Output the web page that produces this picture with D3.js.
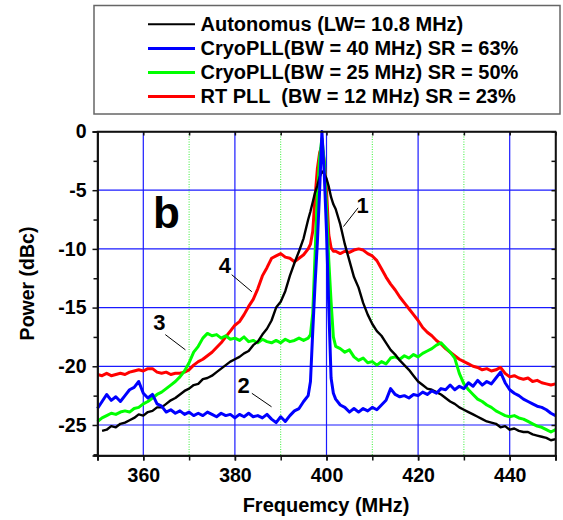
<!DOCTYPE html>
<html>
<head>
<meta charset="utf-8">
<script src="https://cdn.jsdelivr.net/npm/d3@7"></script>
<style>
body { margin: 0; background: #fff; }
text { font-family: "Liberation Sans", Arial, sans-serif; font-weight: bold; }
</style>
</head>
<body>
<div id="chart"></div>
<script>
// frequency samples (MHz), denser around the carrier
const freq = [
	350, 351, 352, 353, 354, 355, 356, 357, 358, 359,
	360, 361, 362, 363, 364, 365, 366, 367, 368, 369,
	370, 371, 372, 373, 374, 375, 376, 377, 378, 379,
	380, 381, 382, 383, 384, 385, 386, 387, 388, 389,
	390, 391, 392, 393, 394, 395, 396,
	396.5, 397, 397.5, 398, 398.5, 399, 399.5, 400, 400.5, 401, 401.5,
	402, 403, 404, 405, 406, 407, 408, 409,
	410, 411, 412, 413, 414, 415, 416, 417, 418, 419,
	420, 421, 422, 423, 424, 425, 426, 427, 428, 429,
	430, 431, 432, 433, 434, 435, 436, 437, 438, 439,
	440, 441, 442, 443, 444, 445, 446, 447, 448, 449, 450
];

const autonomous = [
	null, -25.5, -25.4, -25.1, -25.2, -24.9, -24.8, -24.6, -24.4, -24.1,
	-24.2, -23.9, -23.8, -23.5, -23.5, -23.2, -22.9, -22.7, -22.4, -22.1,
	-21.9, -21.6, -21.5, -21.1, -21.0, -20.8, -20.5, -20.2, -19.9, -19.6,
	-19.4, -19.2, -18.9, -18.7, -18.2, -17.9, -17.3, -16.8, -16.1, -15.0,
	-14.5, -13.6, -12.3, -11.2, -10.2, -9.1, -7.5,
	-6.8, -6.0, -5.2, -4.6, -3.9, -3.4, -3.6, -4.0, -4.7, -5.6, -6.2,
	-6.6, -7.9, -9.6, -11.0, -12.4, -13.3, -14.6, -15.6,
	-16.4, -17.0, -17.4, -18.0, -18.6, -19.0, -19.5, -19.9, -20.3, -20.8,
	-21.3, -21.6, -21.9, -22.0, -22.2, -22.4, -22.7, -23.0, -23.2, -23.5,
	-23.7, -23.9, -24.1, -24.3, -24.5, -24.7, -24.8, -24.9, -25.2, -25.1,
	-25.4, -25.3, -25.5, -25.6, -25.6, -25.8, -25.9, -26.0, -26.1, -26.3, -26.2
];

const cryo40 = [
	-23.6, -23.0, -22.4, -22.9, -22.6, -23.0, -22.5, -22.0, -21.8, -21.3,
	-22.3, -22.7, -22.4, -23.2, -23.4, -23.9, -23.7, -24.0, -23.8, -24.1,
	-23.9, -24.2, -24.0, -24.2, -23.9, -24.1, -24.3, -24.0, -24.2, -24.1,
	-24.4, -24.1, -24.3, -24.0, -24.3, -24.2, -24.4, -24.1, -24.5, -24.8,
	-24.3, -24.7, -24.2, -23.8, -23.6, -23.0, -22.5,
	-21.3, -17.0, -13.0, -9.5, -5.0, 0, -3.5, -8.5, -15.0, -21.0, -22.3,
	-22.8, -23.3, -23.5, -23.9, -23.6, -23.9, -23.6, -23.8,
	-23.5, -23.7, -23.3, -22.9, -21.9, -22.4, -22.6, -22.5, -22.7, -22.4,
	-22.5, -22.2, -22.4, -22.1, -22.3, -21.9, -22.0, -21.6, -22.0, -21.7,
	-21.9, -21.4, -21.7, -21.2, -21.6, -21.3, -21.5, -21.0, -20.5, -21.4,
	-22.0, -22.3, -22.5, -22.8, -23.0, -23.2, -23.4, -23.5, -23.7, -24.0, -24.2
];

const cryo25 = [
	-24.7, -24.4, -24.2, -24.0, -24.1, -23.9, -23.8, -23.9, -23.6, -23.5,
	-23.2, -23.0, -22.7, -22.4, -22.2, -21.9, -21.6, -21.3, -20.9, -20.4,
	-19.7, -18.8, -18.3, -17.6, -17.2, -17.4, -17.3, -17.6, -17.4, -17.7,
	-17.6, -17.8, -17.5, -17.9, -17.8, -18.0, -17.7, -17.9, -18.0, -17.8,
	-18.0, -17.7, -17.9, -17.8, -17.6, -17.8, -17.6,
	-17.3, -15.5, -10.5, -5.5, -2.2, -0.6, -2.5, -6.5, -11.0, -14.5, -17.5,
	-18.3, -18.5, -18.8, -18.6, -19.2, -19.5, -19.3, -19.7,
	-19.6, -19.9, -19.6, -19.8, -19.3, -19.2, -19.4, -19.1, -19.3, -19.0,
	-19.2, -18.9, -18.7, -18.5, -18.2, -18.0, -18.4, -18.8, -19.3, -20.6,
	-21.5, -22.0, -22.4, -22.8, -23.0, -23.3, -23.5, -23.8, -24.0, -24.2,
	-24.3, -24.2, -24.4, -24.5, -24.7, -24.9, -25.1, -25.2, -25.4, -25.6, -25.4
];

const rtpll = [
	-20.7, -20.8, -20.6, -20.8, -20.7, -20.6, -20.7, -20.5, -20.4, -20.3,
	-20.4, -20.2, -20.2, -20.5, -20.6, -20.5, -20.7, -20.6, -20.6, -20.5,
	-20.3, -19.9, -19.6, -19.4, -19.1, -18.8, -18.4, -18.0, -17.5, -17.0,
	-16.5, -16.2, -15.6, -14.9, -14.3, -13.4, -12.3, -11.6, -10.8, -10.6,
	-10.4, -10.7, -10.8, -11.1, -10.8, -10.5, -10.0,
	-9.6, -8.5, -5.6, -3.2, -1.8, -1.2, -2.5, -5.0, -8.8, -9.9, -10.2,
	-10.2, -10.4, -10.2, -10.3, -10.1, -10.0, -10.1, -10.4,
	-10.6, -11.0, -11.7, -12.4, -13.0, -13.5, -14.1, -14.6, -15.1, -15.6,
	-16.1, -16.7, -17.1, -17.4, -17.8, -18.1, -18.5, -18.8, -19.1, -19.4,
	-19.6, -19.8, -20.0, -20.1, -20.3, -20.2, -20.4, -20.3, -20.1, -20.6,
	-20.9, -20.8, -21.0, -21.1, -21.0, -21.3, -21.2, -21.4, -21.5, -21.6, -21.5
];

const legendLabels = [
	"Autonomus (LW= 10.8 MHz)",
	"CryoPLL(BW = 40 MHz) SR = 63%",
	"CryoPLL(BW = 25 MHz) SR = 50%",
	"RT PLL  (BW = 12 MHz) SR = 23%"
];
const seriesColors = ["#000000", "#0000ff", "#00ff00", "#ff0000"];

const xMajor = [360, 380, 400, 420, 440];
const xMinor = [370, 390, 410, 430];
const xTicks = [350, 360, 370, 380, 390, 400, 410, 420, 430, 440, 450];
const yMajor = [0, -5, -10, -15, -20, -25];
const yMinor = [-2.5, -7.5, -12.5, -17.5, -22.5, -27.5];

// curve labels: text position and leader line, in data units
const notes = [
	{ label: "1", tx: 407.9, ty: -6.9, x1: 406.9, y1: -6.5, x2: 403.7, y2: -8.1 },
	{ label: "4", tx: 377.8, ty: -12.05, x1: 379.3, y1: -12.2, x2: 383.7, y2: -13.65 },
	{ label: "3", tx: 363.5, ty: -16.9, x1: 364.8, y1: -17.3, x2: 369.2, y2: -18.6 },
	{ label: "2", tx: 381.9, ty: -22.3, x1: 383.7, y1: -22.3, x2: 388.0, y2: -23.45 }
];

drawspectrum()

function drawspectrum() {
	const width = 563;
	const height = 520;
	const svg = d3.select("#chart")
		.append("svg")
		.attr("width", width)
		.attr("height", height);

	const left = 97.5, right = 555.5, top = 131.5, bottom = 455.5;

	const x = d3.scaleLinear().domain([350, 450]).range([left, right]);
	const y = d3.scaleLinear().domain([0, -27.6]).range([top, bottom]);

	// grid
	const grid = svg.append("g").attr("id", "grid");
	grid.selectAll(".vmaj")
		.data(xMajor)
		.enter()
		.append("line")
		.attr("x1", d => x(d)).attr("x2", d => x(d))
		.attr("y1", top).attr("y2", bottom)
		.attr("stroke", "#1a1aff")
		.attr("stroke-width", 1.2);
	grid.selectAll(".vmin")
		.data(xMinor)
		.enter()
		.append("line")
		.attr("x1", d => x(d)).attr("x2", d => x(d))
		.attr("y1", top).attr("y2", bottom)
		.attr("stroke", "#00ee00")
		.attr("stroke-width", 0.8)
		.attr("stroke-dasharray", "1,1.5");
	grid.selectAll(".hmaj")
		.data(yMajor.slice(1))
		.enter()
		.append("line")
		.attr("x1", left).attr("x2", right)
		.attr("y1", d => y(d)).attr("y2", d => y(d))
		.attr("stroke", "#1a1aff")
		.attr("stroke-width", 1.2);

	// curves
	const seriesList = [autonomous, cryo40, cryo25, rtpll];
	const line = d3.line()
		.defined(d => d[1] != null)
		.x(d => x(d[0]))
		.y(d => y(d[1]));
	const drawOrder = [3, 2, 0, 1];
	svg.append("g")
		.attr("id", "curves")
		.selectAll("path")
		.data(drawOrder)
		.enter()
		.append("path")
		.attr("d", i => line(freq.map((f, k) => [f, seriesList[i][k]])))
		.attr("fill", "none")
		.attr("stroke", i => seriesColors[i])
		.attr("stroke-width", i => i == 0 ? 2.4 : 3)
		.attr("stroke-linejoin", "round");

	// axes
	const fmt = d => String(d);
	svg.append("g")
		.attr("transform", `translate(0,${bottom})`)
		.call(d3.axisBottom(x).tickValues(xTicks).tickSize(5).tickFormat(""));
	svg.append("g")
		.attr("transform", `translate(0,${bottom})`)
		.call(d3.axisBottom(x).tickValues(xMajor).tickSize(5).tickPadding(8).tickFormat(fmt));
	svg.append("g")
		.attr("transform", `translate(${left},0)`)
		.call(d3.axisLeft(y).tickValues(yMajor).tickSize(5).tickPadding(6).tickFormat(fmt));
	svg.append("g")
		.attr("transform", `translate(${left},0)`)
		.call(d3.axisLeft(y).tickValues(yMinor).tickSize(4).tickFormat(""));
	svg.append("g")
		.attr("transform", `translate(0,${top})`)
		.call(d3.axisTop(x).tickValues(xTicks).tickSizeInner(-4).tickSizeOuter(0).tickFormat(""));
	svg.append("g")
		.attr("transform", `translate(${right},0)`)
		.call(d3.axisRight(y).tickValues(yMinor.slice(0, 5).concat(yMajor)).tickSizeInner(-4).tickSizeOuter(0).tickFormat(""));

	svg.selectAll(".domain, .tick line")
		.attr("stroke", "#111")
		.attr("stroke-width", 1.5);
	svg.selectAll(".tick text")
		.attr("fill", "#000")
		.style("font-size", "19.5px")
		.style("font-family", "Liberation Sans, Arial, sans-serif")
		.style("font-weight", "bold");

	// frame
	svg.append("rect")
		.attr("x", left).attr("y", top)
		.attr("width", right - left).attr("height", bottom - top)
		.attr("fill", "none")
		.attr("stroke", "#111")
		.attr("stroke-width", 1.5);

	// axis titles
	svg.append("text")
		.attr("transform", `translate(27,${283.5}) rotate(-90)`)
		.attr("text-anchor", "middle")
		.attr("dy", "0.35em")
		.style("font-size", "19.5px")
		.text("Power (dBc)");
	svg.append("text")
		.attr("x", 326)
		.attr("y", 512)
		.attr("text-anchor", "middle")
		.style("font-size", "20px")
		.text("Frequemcy (MHz)");

	// panel letter
	svg.append("text")
		.attr("x", x(362.1))
		.attr("y", y(-8.2))
		.style("font-size", "44px")
		.text("b");

	// curve numbers with leader lines
	const ann = svg.append("g").attr("id", "notes");
	ann.selectAll("line")
		.data(notes)
		.enter()
		.append("line")
		.attr("x1", d => x(d.x1)).attr("y1", d => y(d.y1))
		.attr("x2", d => x(d.x2)).attr("y2", d => y(d.y2))
		.attr("stroke", "#000")
		.attr("stroke-width", 1);
	ann.selectAll("text")
		.data(notes)
		.enter()
		.append("text")
		.attr("x", d => x(d.tx))
		.attr("y", d => y(d.ty))
		.attr("text-anchor", "middle")
		.style("font-size", "22px")
		.text(d => d.label);

	// legend
	const legend = svg.append("g").attr("id", "legend");
	legend.append("rect")
		.attr("x", 94).attr("y", 5.5)
		.attr("width", 466).attr("height", 108.5)
		.attr("fill", "#fff")
		.attr("stroke", "#666")
		.attr("stroke-width", 1.5);
	const rows = legend.selectAll(".row")
		.data(legendLabels)
		.enter()
		.append("g")
		.attr("transform", (d, i) => `translate(0,${24.3 + i * 24.1})`);
	rows.append("line")
		.attr("x1", 148).attr("x2", 195)
		.attr("y1", 0).attr("y2", 0)
		.attr("stroke", (d, i) => seriesColors[i])
		.attr("stroke-width", (d, i) => i == 0 ? 2 : 3);
	rows.append("text")
		.attr("x", 200.5)
		.attr("y", 6.8)
		.style("font-size", "20px")
		.style("white-space", "pre")
		.attr("xml:space", "preserve")
		.text(d => d);
}
</script>
</body>
</html>
